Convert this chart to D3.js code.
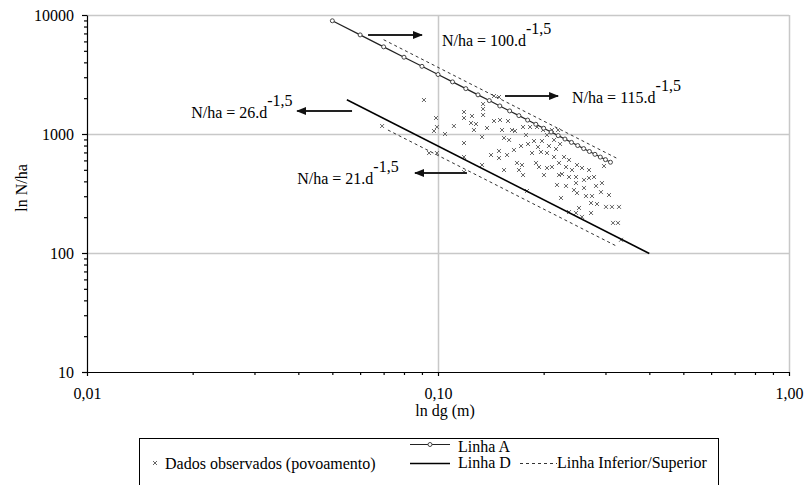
<!DOCTYPE html>
<html>
<head>
<meta charset="utf-8">
<script src="https://cdn.jsdelivr.net/npm/d3@7"></script>
<style>
body { margin: 0; background: #fff; }
text { font-family: "Liberation Serif", "DejaVu Serif", serif; font-size: 16px; }
</style>
</head>
<body>
<div id="chart"></div>
<script>
'use strict'

// observed stands (dg in m, N per ha)
let dgObs = [0.0912, 0.0987, 0.0993, 0.0974, 0.1047, 0.0943, 0.0993, 0.0693, 0.1186, 0.1186,
	0.125, 0.1242, 0.1283, 0.1266, 0.1186, 0.1186, 0.1344, 0.1344, 0.1344, 0.1335,
	0.1335, 0.1186, 0.1444, 0.1492, 0.1444, 0.1502, 0.1583, 0.1522, 0.1625, 0.1542,
	0.1594, 0.1492, 0.1573, 0.1492, 0.1542, 0.1701, 0.1747, 0.1679, 0.1735, 0.1657,
	0.1747, 0.1829, 0.1915, 0.1992, 0.1724, 0.1805, 0.1877, 0.1927, 0.1853, 0.1965,
	0.2044, 0.1902, 0.194, 0.2044, 0.1793, 0.2112, 0.2198, 0.2071, 0.2169, 0.2227,
	0.2141, 0.2286, 0.2112, 0.2212, 0.2316, 0.2409, 0.2256, 0.2362, 0.2183, 0.2316,
	0.2241, 0.2489, 0.2572, 0.2473, 0.2606, 0.2693, 0.2783, 0.2473, 0.2489, 0.264,
	0.2747, 0.2522, 0.2729, 0.2838, 0.2473, 0.2729, 0.2572, 0.2362, 0.2971, 0.2932,
	0.2913, 0.301, 0.3131, 0.3279, 0.3152, 0.3257, 0.3322, 0.1978, 0.2044, 0.1781,
	0.2141, 0.2362, 0.2693, 0.244, 0.2004, 0.282, 0.2606, 0.307, 0.1646, 0.1379,
	0.2212, 0.111, 0.1416]
let nhaObs = [1931, 1363, 1145, 1060, 1000, 692, 692, 1167, 1531, 1363,
	1416, 1237, 1213, 1080, 840, 641, 1787, 1623, 1444, 944,
	549, 479, 2086, 2046, 1286, 1311, 1286, 1080, 1080, 926,
	891, 720, 666, 628, 498, 498, 452, 571, 549, 1060,
	1145, 1145, 1145, 1080, 793, 824, 873, 778, 692, 706,
	692, 571, 528, 518, 332, 1080, 1080, 793, 748, 824,
	641, 641, 528, 571, 528, 498, 461, 435, 373, 366,
	290, 549, 518, 435, 411, 427, 435, 387, 319, 301,
	301, 239, 263, 258, 217, 217, 201, 221, 538, 387,
	325, 244, 244, 244, 179, 179, 129, 873, 981, 981,
	891, 605, 498, 338, 452, 366, 352, 307, 734, 1123,
	452, 1167, 666]

// Linha A (N/ha = 100.d^-1,5)
let lineAdg = [0.05, 0.06, 0.07, 0.08, 0.09, 0.10, 0.11, 0.12, 0.13, 0.14, 0.15, 0.16, 0.17, 0.18,
	0.19, 0.20, 0.21, 0.22, 0.23, 0.24, 0.25, 0.26, 0.27, 0.28, 0.29, 0.30, 0.31]
let lineAnha = [8944, 6804, 5399, 4419, 3704, 3162, 2741, 2406, 2133, 1909, 1721, 1563, 1427, 1309,
	1207, 1118, 1039, 969, 907, 850, 800, 754, 713, 675, 640, 609, 579]

// Linha D
let lineDdg = [0.055, 0.40]
let lineDnha = [1940, 99]

// Linha Superior (115) / Inferior (21)
let upperDg = [0.07, 0.325]
let upperNha = [6200, 620]
let lowerDg = [0.072, 0.325]
let lowerNha = [1080, 113]

let noteLabels = ["N/ha = 100.d", "N/ha = 115.d", "N/ha = 26.d", "N/ha = 21.d"]
let noteExp = "-1,5"
let noteAt = [[0.1026, 5490], [0.2409, 1822], [0.0198, 1363], [0.0397, 380]]
let arrowFrom = [[0.0632, 6792], [0.1552, 2086], [0.0569, 1561], [0.1209, 470]]
let arrowTo = [[0.090, 6792], [0.2198, 2086], [0.0397, 1561], [0.086, 470]]

let xTicks = [0.01, 0.1, 1]
let yTicks = [10, 100, 1000, 10000]

let width = 805
let height = 485
let plot = {left: 87, right: 789, top: 15, bottom: 372}
let serif = "Liberation Serif"

let svg = d3.select("#chart").append("svg")
	.attr("width", width)
	.attr("height", height)

let x = d3.scaleLog().domain([0.01, 1]).range([plot.left, plot.right])
let y = d3.scaleLog().domain([10, 10000]).range([plot.bottom, plot.top])

let ptBR = d3.formatLocale({decimal: ",", thousands: ".", grouping: [3], currency: ["", ""]})
let xFmt = ptBR.format(".2f")

let minorX = []
xTicks.slice(0, -1).forEach(function(t){
	for (let k = 2; k < 10; k++) minorX.push(t * k)
})
let minorY = []
yTicks.slice(0, -1).forEach(function(t){
	for (let k = 2; k < 10; k++) minorY.push(t * k)
})

// gridlines
let grid = svg.append("g")
yTicks.slice(1).forEach(function(t){
	grid.append("line")
		.attr("x1", plot.left).attr("x2", plot.right)
		.attr("y1", Math.round(y(t)) + 0.5).attr("y2", Math.round(y(t)) + 0.5)
		.attr("stroke", "#c8c8c8").attr("stroke-width", 1.5)
})
xTicks.slice(1).forEach(function(t){
	grid.append("line")
		.attr("x1", Math.round(x(t)) + 0.5).attr("x2", Math.round(x(t)) + 0.5)
		.attr("y1", plot.top).attr("y2", plot.bottom)
		.attr("stroke", "#c8c8c8").attr("stroke-width", 1.5)
})

// axes
svg.append("g")
	.attr("transform", "translate(0," + plot.bottom + ")")
	.call(d3.axisBottom(x).tickValues(xTicks).tickFormat(xFmt).tickSize(4).tickSizeOuter(0).tickPadding(12))
svg.append("g")
	.attr("transform", "translate(0," + plot.bottom + ")")
	.call(d3.axisBottom(x).tickValues(minorX).tickFormat("").tickSize(3).tickSizeOuter(0))
	.select(".domain").remove()

svg.append("g")
	.attr("transform", "translate(" + plot.left + ",0)")
	.call(d3.axisLeft(y).tickValues(yTicks).tickFormat(d3.format("d")).tickSize(5).tickSizeOuter(0).tickPadding(8))
svg.append("g")
	.attr("transform", "translate(" + plot.left + ",0)")
	.call(d3.axisLeft(y).tickValues(minorY).tickFormat("").tickSize(3).tickSizeOuter(0))
	.select(".domain").remove()

svg.selectAll(".tick text").attr("fill", "#000")
svg.selectAll(".domain, .tick line").attr("stroke", "#000").attr("stroke-width", 1.2)

// axis titles
svg.append("text")
	.attr("x", 445).attr("y", 416)
	.attr("text-anchor", "middle")
	.text("ln dg (m)")
svg.append("text")
	.attr("transform", "translate(27,188) rotate(-90)")
	.attr("text-anchor", "middle")
	.text("ln N/ha")

let line = d3.line()
	.x(function(d){ return x(d[0]) })
	.y(function(d){ return y(d[1]) })

// observed data
let cross = 2
svg.append("g").selectAll("path")
	.data(d3.zip(dgObs, nhaObs))
	.join("path")
	.attr("d", function(d){
		let cx = x(d[0]), cy = y(d[1])
		return "M" + (cx - cross) + "," + (cy - cross) + "L" + (cx + cross) + "," + (cy + cross) +
			"M" + (cx - cross) + "," + (cy + cross) + "L" + (cx + cross) + "," + (cy - cross)
	})
	.attr("stroke", "#666")
	.attr("stroke-width", 1)
	.attr("fill", "none")

// dashed bounds
svg.append("path").datum(d3.zip(upperDg, upperNha))
	.attr("d", line).attr("fill", "none")
	.attr("stroke", "#333").attr("stroke-width", 1).attr("stroke-dasharray", "3,3")
svg.append("path").datum(d3.zip(lowerDg, lowerNha))
	.attr("d", line).attr("fill", "none")
	.attr("stroke", "#333").attr("stroke-width", 1).attr("stroke-dasharray", "3,3")

// Linha D
svg.append("path").datum(d3.zip(lineDdg, lineDnha))
	.attr("d", line).attr("fill", "none")
	.attr("stroke", "#000").attr("stroke-width", 1.5)

// Linha A
let lineA = d3.zip(lineAdg, lineAnha)
svg.append("path").datum(lineA)
	.attr("d", line).attr("fill", "none")
	.attr("stroke", "#222").attr("stroke-width", 1.2)
svg.append("g").selectAll("circle")
	.data(lineA)
	.join("circle")
	.attr("cx", function(d){ return x(d[0]) })
	.attr("cy", function(d){ return y(d[1]) })
	.attr("r", 2)
	.attr("fill", "#fff")
	.attr("stroke", "#444")
	.attr("stroke-width", 1)

// arrows and equations
svg.append("defs").append("marker")
	.attr("id", "head")
	.attr("viewBox", "0 0 10 10")
	.attr("refX", 9).attr("refY", 5)
	.attr("markerWidth", 5).attr("markerHeight", 5)
	.attr("markerUnits", "strokeWidth")
	.attr("orient", "auto")
	.append("path").attr("d", "M0,1L10,5L0,9Z").attr("fill", "#111")

arrowFrom.forEach(function(a, i){
	svg.append("line")
		.attr("x1", x(a[0])).attr("y1", y(a[1]))
		.attr("x2", x(arrowTo[i][0])).attr("y2", y(arrowTo[i][1]))
		.attr("stroke", "#222").attr("stroke-width", 2)
		.attr("marker-end", "url(#head)")
})

noteLabels.forEach(function(lbl, i){
	let t = svg.append("text")
		.attr("x", x(noteAt[i][0]))
		.attr("y", y(noteAt[i][1]))
	t.append("tspan").text(lbl)
	t.append("tspan").attr("dy", -12).text(noteExp)
})

// legend
let lg = svg.append("g")
lg.append("rect")
	.attr("x", 139.5).attr("y", 438.5)
	.attr("width", 579).attr("height", 60)
	.attr("fill", "#fff").attr("stroke", "#000").attr("stroke-width", 1)
lg.append("path")
	.attr("d", "M153,461L157,465M153,465L157,461")
	.attr("stroke", "#666").attr("stroke-width", 1)
lg.append("text").attr("x", 165).attr("y", 469).text("Dados observados (povoamento)")
lg.append("line").attr("x1", 410).attr("x2", 450).attr("y1", 444.5).attr("y2", 444.5)
	.attr("stroke", "#222").attr("stroke-width", 1.2)
lg.append("circle").attr("cx", 430).attr("cy", 444.5).attr("r", 2)
	.attr("fill", "#fff").attr("stroke", "#444")
lg.append("text").attr("x", 458).attr("y", 452).text("Linha A")
lg.append("line").attr("x1", 410).attr("x2", 450).attr("y1", 463.5).attr("y2", 463.5)
	.attr("stroke", "#000").attr("stroke-width", 1.5)
lg.append("text").attr("x", 458).attr("y", 468).text("Linha D")
lg.append("line").attr("x1", 520).attr("x2", 557).attr("y1", 463.5).attr("y2", 463.5)
	.attr("stroke", "#333").attr("stroke-dasharray", "3,3")
lg.append("text").attr("x", 557).attr("y", 468).text("Linha Inferior/Superior")

// every text in the serif face, set directly on the element
svg.selectAll("g").attr("font-family", null).attr("font-size", null)
svg.selectAll("text").attr("font-family", serif).attr("font-size", 16)
</script>
</body>
</html>
